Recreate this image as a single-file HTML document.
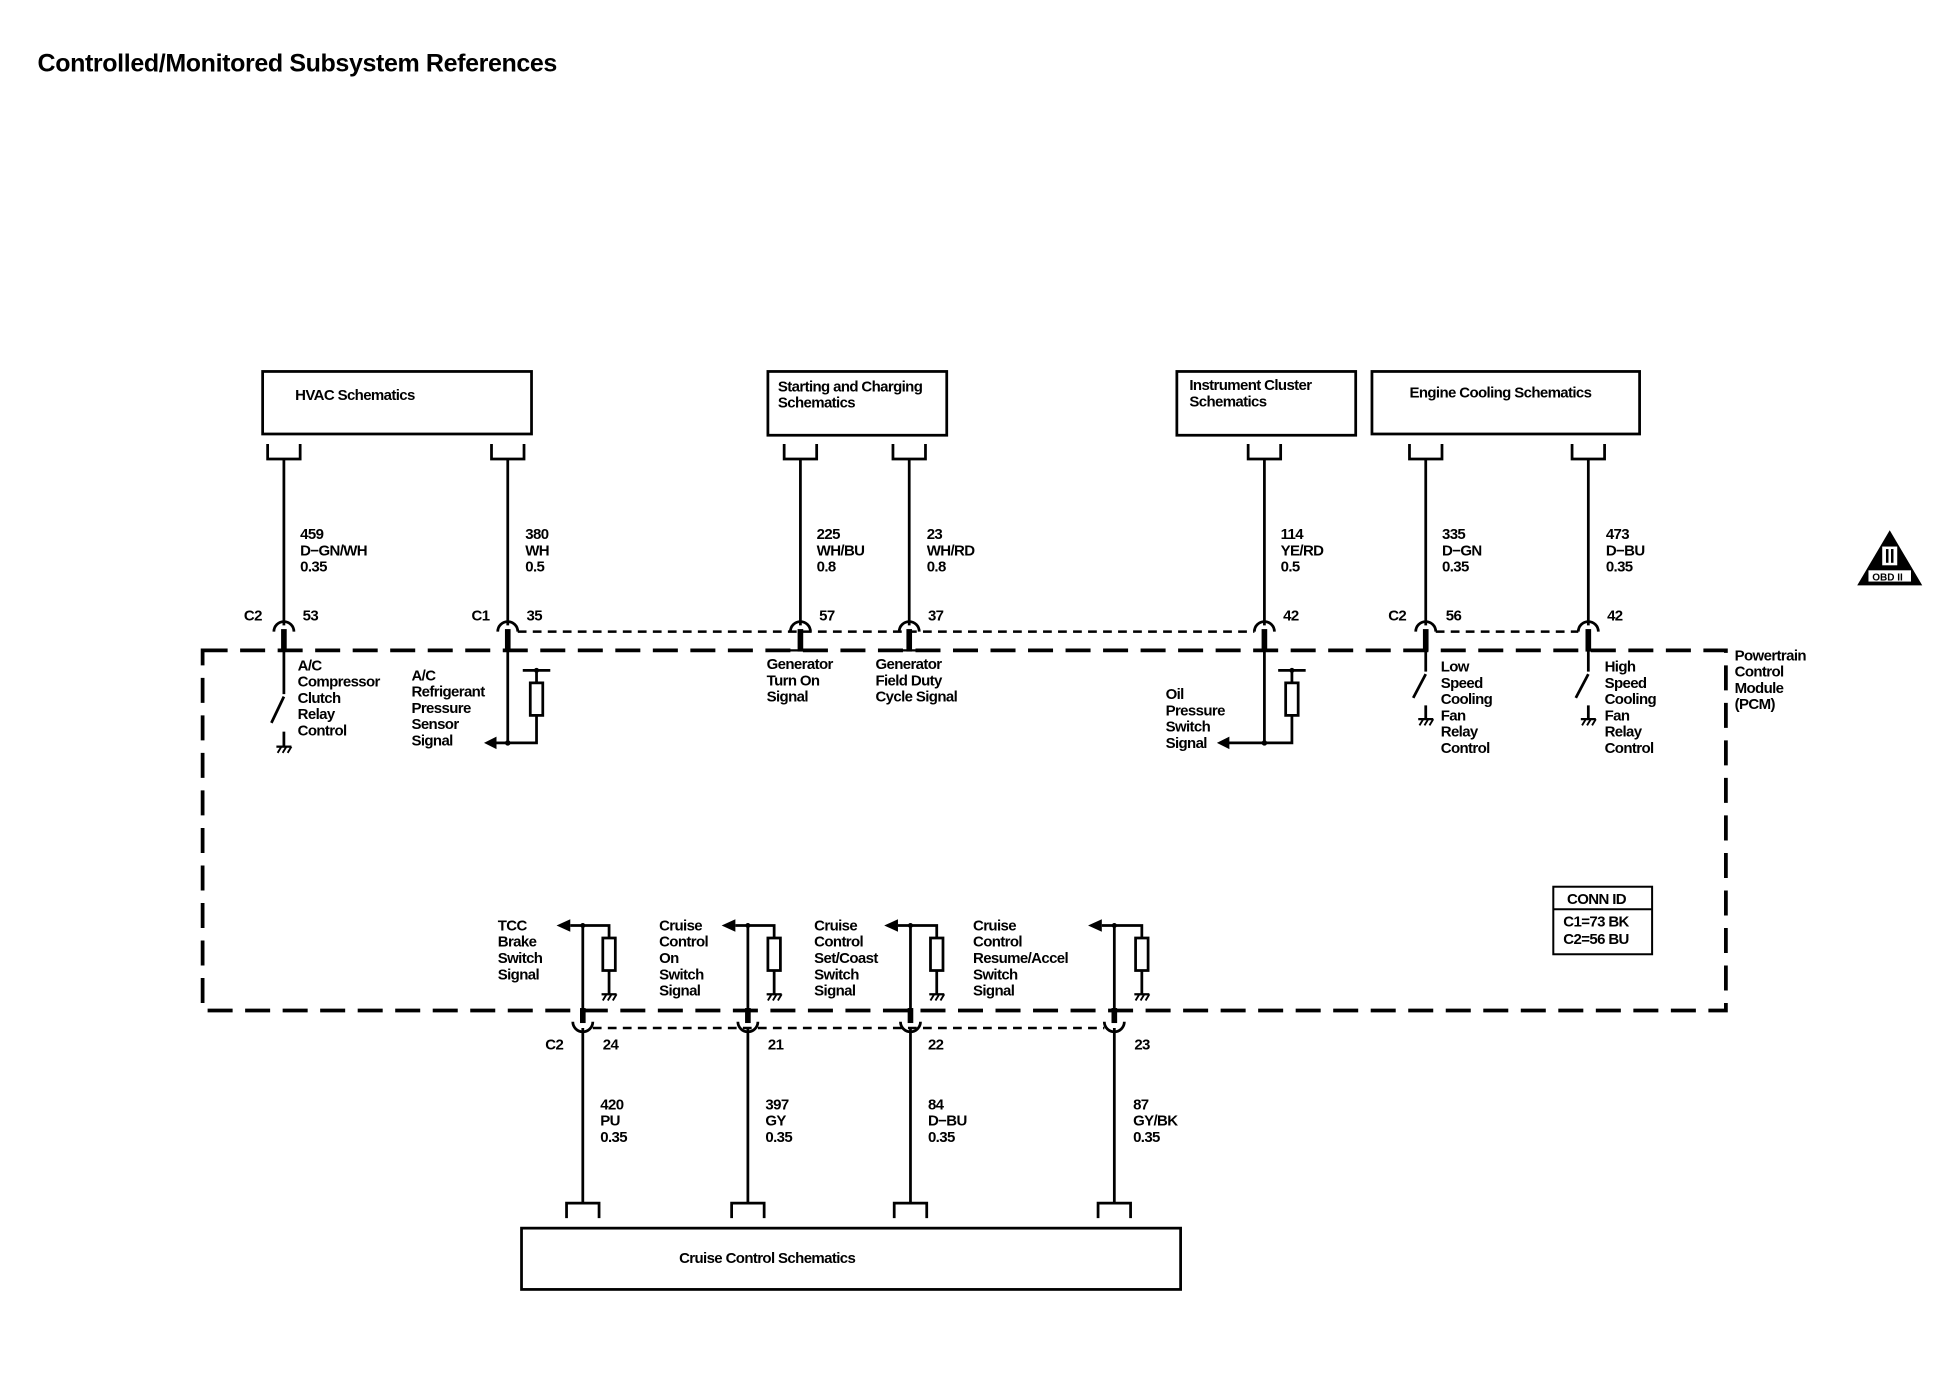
<!DOCTYPE html>
<html><head><meta charset="utf-8"><style>
html,body{margin:0;padding:0;background:#fff}
svg{display:block}
text{font-family:"Liberation Sans",Arial,sans-serif;font-size:12px;font-weight:bold;fill:#000;letter-spacing:-0.5px}
</style></head><body>
<svg width="1936" height="1392" viewBox="0 0 1548 1113" xmlns="http://www.w3.org/2000/svg">
<defs>
<g id="gnd"><line x1="-6" y1="0" x2="6" y2="0" stroke="#000" stroke-width="1.8"/><line x1="-5" y1="5" x2="-2" y2="0" stroke="#000" stroke-width="1.5"/><line x1="-1" y1="5" x2="2" y2="0" stroke="#000" stroke-width="1.5"/><line x1="3" y1="5" x2="6" y2="0" stroke="#000" stroke-width="1.5"/></g>
</defs>
<text x="30" y="57" style="font-size:20px;letter-spacing:-0.3px">Controlled/Monitored Subsystem References</text>

<g fill="none" stroke="#000" stroke-width="2.2">
<rect x="210" y="297" width="215" height="50"/>
<rect x="614" y="297" width="143" height="51"/>
<rect x="941" y="297" width="143" height="51"/>
<rect x="1097" y="297" width="214" height="50"/>
<rect x="417" y="982" width="527" height="49"/>
<rect x="1242" y="709" width="79" height="54" stroke-width="1.6"/>
<line x1="1242" y1="727" x2="1321" y2="727" stroke-width="1.6"/>
</g>
<text x="236" y="320">HVAC Schematics</text>
<text x="622" y="313">Starting and Charging</text><text x="622" y="326">Schematics</text>
<text x="951" y="312">Instrument Cluster</text><text x="951" y="325">Schematics</text>
<text x="1127" y="318">Engine Cooling Schematics</text>
<text x="543" y="1010">Cruise Control Schematics</text>
<text x="1253" y="723">CONN ID</text>
<text x="1250" y="741">C1=73 BK</text>
<text x="1250" y="755">C2=56 BU</text>

<rect x="162" y="520" width="1218" height="288" fill="none" stroke="#000" stroke-width="3" stroke-dasharray="20 10"/>
<text x="1387" y="528">Powertrain</text><text x="1387" y="541">Control</text><text x="1387" y="554">Module</text><text x="1387" y="567">(PCM)</text>

<g stroke="#000" stroke-width="2" stroke-dasharray="7 5" fill="none">
<line x1="414" y1="505" x2="1003" y2="505"/>
<line x1="1148" y1="505" x2="1262" y2="505"/>
<line x1="474" y1="822" x2="883" y2="822"/>
</g>

<g stroke="#000" stroke-width="2.2" fill="none">
<path d="M214 355V367H240V355M227 367V500"/>
<path d="M393 355V367H419V355M406 367V500"/>
<path d="M627 355V367H653V355M640 367V500"/>
<path d="M714 355V367H740V355M727 367V500"/>
<path d="M998 355V367H1024V355M1011 367V500"/>
<path d="M1127 355V367H1153V355M1140 367V500"/>
<path d="M1257 355V367H1283V355M1270 367V500"/>
<path d="M219 505A8 8 0 0 1 235 505"/>
<path d="M398 505A8 8 0 0 1 414 505"/>
<path d="M632 505A8 8 0 0 1 648 505"/>
<path d="M719 505A8 8 0 0 1 735 505"/>
<path d="M1003 505A8 8 0 0 1 1019 505"/>
<path d="M1132 505A8 8 0 0 1 1148 505"/>
<path d="M1262 505A8 8 0 0 1 1278 505"/>
</g>
<g stroke="#000" stroke-width="4.5">
<line x1="227" y1="503" x2="227" y2="521"/><line x1="406" y1="503" x2="406" y2="521"/>
<line x1="640" y1="503" x2="640" y2="521"/><line x1="727" y1="503" x2="727" y2="521"/>
<line x1="1011" y1="503" x2="1011" y2="521"/><line x1="1140" y1="503" x2="1140" y2="521"/>
<line x1="1270" y1="503" x2="1270" y2="521"/>
</g>
<g stroke="#000" stroke-width="1.8">
<line x1="619" y1="520" x2="661" y2="520"/><line x1="706" y1="520" x2="748" y2="520"/>
</g>

<text x="240" y="431">459</text><text x="240" y="444">D−GN/WH</text><text x="240" y="457">0.35</text>
<text x="420" y="431">380</text><text x="420" y="444">WH</text><text x="420" y="457">0.5</text>
<text x="653" y="431">225</text><text x="653" y="444">WH/BU</text><text x="653" y="457">0.8</text>
<text x="741" y="431">23</text><text x="741" y="444">WH/RD</text><text x="741" y="457">0.8</text>
<text x="1024" y="431">114</text><text x="1024" y="444">YE/RD</text><text x="1024" y="457">0.5</text>
<text x="1153" y="431">335</text><text x="1153" y="444">D−GN</text><text x="1153" y="457">0.35</text>
<text x="1284" y="431">473</text><text x="1284" y="444">D−BU</text><text x="1284" y="457">0.35</text>
<text x="195" y="496">C2</text><text x="242" y="496">53</text>
<text x="377" y="496">C1</text><text x="421" y="496">35</text>
<text x="655" y="496">57</text><text x="742" y="496">37</text>
<text x="1026" y="496">42</text>
<text x="1110" y="496">C2</text><text x="1156" y="496">56</text>
<text x="1285" y="496">42</text>

<g stroke="#000" stroke-width="2.2" fill="none">
<line x1="227" y1="520" x2="227" y2="555"/><line x1="227" y1="557" x2="217" y2="578"/><line x1="227" y1="585" x2="227" y2="597"/>
<line x1="1140" y1="520" x2="1140" y2="537"/><line x1="1140" y1="539" x2="1130" y2="558"/><line x1="1140" y1="564" x2="1140" y2="575"/>
<line x1="1270" y1="520" x2="1270" y2="537"/><line x1="1270" y1="539" x2="1260" y2="558"/><line x1="1270" y1="564" x2="1270" y2="575"/>
<path d="M406 520V594H429V572M429 546V536M418 536H440"/>
<rect x="424" y="546" width="10" height="26"/>
<path d="M1011 520V594H1033V572M1033 546V536M1022 536H1044"/>
<rect x="1028" y="546" width="10" height="26"/>
<line x1="406" y1="594" x2="396" y2="594"/><line x1="1011" y1="594" x2="982" y2="594"/>
</g>
<use href="#gnd" x="227" y="597"/><use href="#gnd" x="1140" y="575"/><use href="#gnd" x="1270" y="575"/>
<polygon points="387,594 397,589 397,599"/><polygon points="973,594 983,589 983,599"/>
<circle cx="406" cy="594" r="2.2"/><circle cx="1011" cy="594" r="2.2"/>
<circle cx="429" cy="536" r="2"/><circle cx="1033" cy="536" r="2"/>

<text x="238" y="536">A/C</text><text x="238" y="549">Compressor</text><text x="238" y="562">Clutch</text><text x="238" y="575">Relay</text><text x="238" y="588">Control</text>
<text x="329" y="544">A/C</text><text x="329" y="557">Refrigerant</text><text x="329" y="570">Pressure</text><text x="329" y="583">Sensor</text><text x="329" y="596">Signal</text>
<text x="613" y="535">Generator</text><text x="613" y="548">Turn On</text><text x="613" y="561">Signal</text>
<text x="700" y="535">Generator</text><text x="700" y="548">Field Duty</text><text x="700" y="561">Cycle Signal</text>
<text x="932" y="559">Oil</text><text x="932" y="572">Pressure</text><text x="932" y="585">Switch</text><text x="932" y="598">Signal</text>
<text x="1152" y="537">Low</text><text x="1152" y="550">Speed</text><text x="1152" y="563">Cooling</text><text x="1152" y="576">Fan</text><text x="1152" y="589">Relay</text><text x="1152" y="602">Control</text>
<text x="1283" y="537">High</text><text x="1283" y="550">Speed</text><text x="1283" y="563">Cooling</text><text x="1283" y="576">Fan</text><text x="1283" y="589">Relay</text><text x="1283" y="602">Control</text>

<g stroke="#000" stroke-width="2.2" fill="none">
<path d="M466 740V808M466 822V962M453 974V962H479V974"/>
<path d="M598 740V808M598 822V962M585 974V962H611V974"/>
<path d="M728 740V808M728 822V962M715 974V962H741V974"/>
<path d="M891 740V808M891 822V962M878 974V962H904V974"/>
<path d="M458 817A8 8 0 0 0 474 817"/>
<path d="M590 817A8 8 0 0 0 606 817"/>
<path d="M720 817A8 8 0 0 0 736 817"/>
<path d="M883 817A8 8 0 0 0 899 817"/>
<path d="M456 740H487V750M487 776V795"/><rect x="482" y="750" width="10" height="26"/>
<path d="M588 740H619V750M619 776V795"/><rect x="614" y="750" width="10" height="26"/>
<path d="M718 740H749V750M749 776V795"/><rect x="744" y="750" width="10" height="26"/>
<path d="M881 740H913V750M913 776V795"/><rect x="908" y="750" width="10" height="26"/>
</g>
<g stroke="#000" stroke-width="4.5">
<line x1="466" y1="806" x2="466" y2="818"/><line x1="598" y1="806" x2="598" y2="818"/>
<line x1="728" y1="806" x2="728" y2="818"/><line x1="891" y1="806" x2="891" y2="818"/>
</g>
<use href="#gnd" x="487" y="795"/><use href="#gnd" x="619" y="795"/><use href="#gnd" x="749" y="795"/><use href="#gnd" x="913" y="795"/>
<polygon points="445,740 456,735 456,745"/><polygon points="577,740 588,735 588,745"/><polygon points="707,740 718,735 718,745"/><polygon points="870,740 881,735 881,745"/>
<circle cx="466" cy="740" r="2"/><circle cx="598" cy="740" r="2"/><circle cx="728" cy="740" r="2"/><circle cx="891" cy="740" r="2"/>

<text x="398" y="744">TCC</text><text x="398" y="757">Brake</text><text x="398" y="770">Switch</text><text x="398" y="783">Signal</text>
<text x="527" y="744">Cruise</text><text x="527" y="757">Control</text><text x="527" y="770">On</text><text x="527" y="783">Switch</text><text x="527" y="796">Signal</text>
<text x="651" y="744">Cruise</text><text x="651" y="757">Control</text><text x="651" y="770">Set/Coast</text><text x="651" y="783">Switch</text><text x="651" y="796">Signal</text>
<text x="778" y="744">Cruise</text><text x="778" y="757">Control</text><text x="778" y="770">Resume/Accel</text><text x="778" y="783">Switch</text><text x="778" y="796">Signal</text>

<text x="436" y="839">C2</text><text x="482" y="839">24</text><text x="614" y="839">21</text><text x="742" y="839">22</text><text x="907" y="839">23</text>
<text x="480" y="887">420</text><text x="480" y="900">PU</text><text x="480" y="913">0.35</text>
<text x="612" y="887">397</text><text x="612" y="900">GY</text><text x="612" y="913">0.35</text>
<text x="742" y="887">84</text><text x="742" y="900">D−BU</text><text x="742" y="913">0.35</text>
<text x="906" y="887">87</text><text x="906" y="900">GY/BK</text><text x="906" y="913">0.35</text>

<polygon points="1511,424 1485,468 1537,468" fill="#000"/>
<rect x="1505" y="437" width="12" height="15" fill="#fff"/>
<rect x="1508" y="439" width="2" height="11" fill="#000"/><rect x="1512" y="439" width="2" height="11" fill="#000"/>
<rect x="1494" y="456" width="34" height="9" fill="#fff"/>
<text x="1497" y="464" style="font-size:8px;letter-spacing:0">OBD II</text>
</svg>
</body></html>
